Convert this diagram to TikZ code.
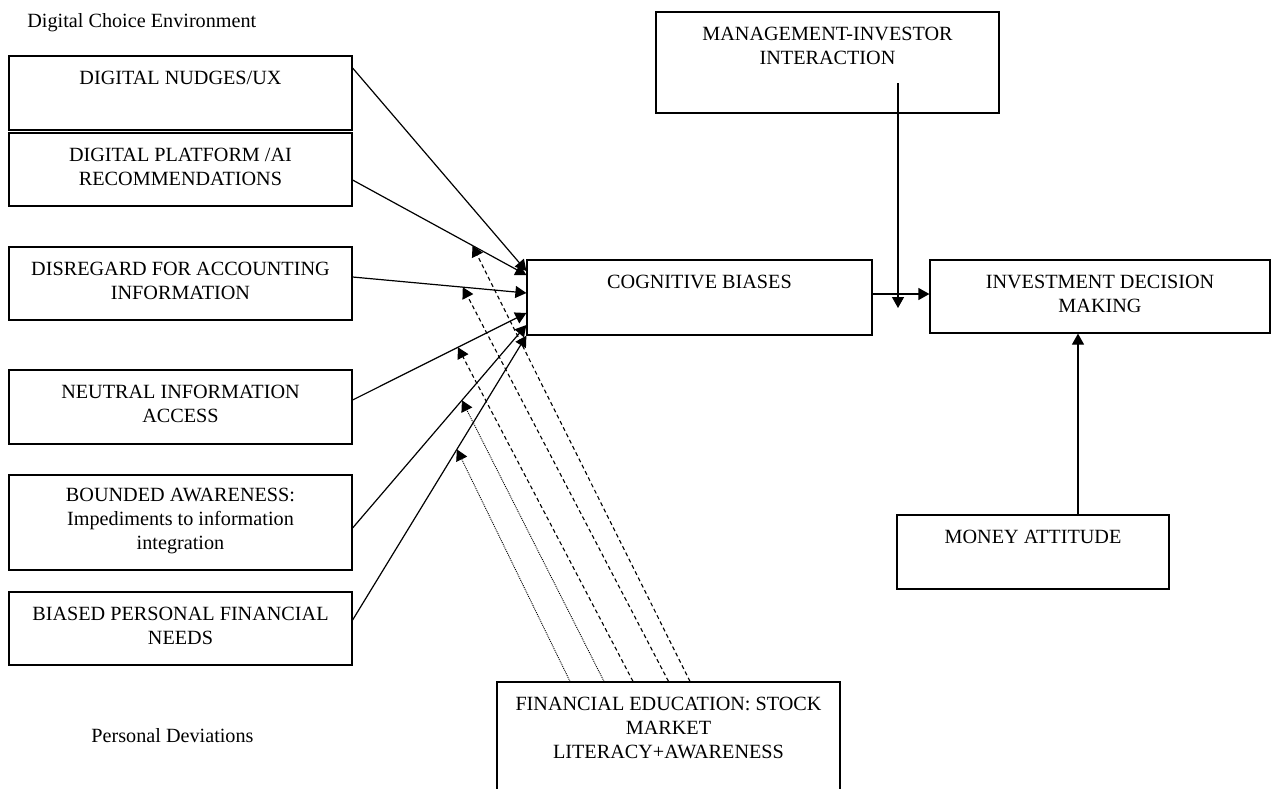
\documentclass[tikz,border=0pt]{standalone}
\usepackage{fontspec}
\setmainfont{Liberation Serif}
\usetikzlibrary{arrows.meta,positioning,fit}

\tikzset{
  box/.style={draw, line width=0.6pt, inner sep=0pt},
  boxtext/.style={inner sep=0pt, align=center, font=\fontsize{10.1}{12}\selectfont},
  link/.style={line width=0.6pt, -{Triangle[length=5.5pt,width=6pt]}},
  dashlink/.style={link, line width=0.55pt, dash pattern=on 2pt off 1.5pt},
  dotlink/.style={link, line width=0.45pt, dash pattern=on 0.5pt off 0.5pt},
}

\begin{document}
\begin{tikzpicture}[x=0.5pt,y=-0.5pt]
\clip (0,0) rectangle (1274,788);

% headings
\node[boxtext, anchor=base west] (dce) at (27,27) {Digital Choice Environment};
\node[boxtext, anchor=base west] (pd) at (91,742) {Personal Deviations};

% left column
\node[box, fit={(9,56) (352,130)}] (nudges) {};
\node[boxtext, below=7.5pt of nudges.north] (nudges-t) {DIGITAL NUDGES/UX};
\node[box, fit={(9,133) (352,206)}] (platform) {};
\node[boxtext, below=7.5pt of platform.north] (platform-t) {DIGITAL PLATFORM /AI\\RECOMMENDATIONS};
\node[box, fit={(9,247) (352,320)}] (disregard) {};
\node[boxtext, below=7.5pt of disregard.north] (disregard-t) {DISREGARD FOR ACCOUNTING\\INFORMATION};
\node[box, fit={(9,370) (352,444)}] (neutral) {};
\node[boxtext, below=7.5pt of neutral.north] (neutral-t) {NEUTRAL INFORMATION\\ACCESS};
\node[box, fit={(9,475) (352,570)}] (bounded) {};
\node[boxtext, below=6.5pt of bounded.north] (bounded-t) {BOUNDED AWARENESS:\\Impediments to information\\integration};
\node[box, fit={(9,592) (352,665)}] (needs) {};
\node[boxtext, below=7.5pt of needs.north] (needs-t) {BIASED PERSONAL FINANCIAL\\NEEDS};

% middle and right
\node[box, fit={(527,260) (872,335)}] (cb) {};
\node[boxtext, below=7.5pt of cb.north] (cb-t) {COGNITIVE BIASES};
\node[box, fit={(656,12) (999,113)}] (mi) {};
\node[boxtext, below=7.5pt of mi.north] (mi-t) {MANAGEMENT-INVESTOR\\INTERACTION};
\node[box, fit={(930,260) (1270,333)}] (idm) {};
\node[boxtext, below=7.5pt of idm.north] (idm-t) {INVESTMENT DECISION\\MAKING};
\node[box, fit={(897,515) (1169,589)}] (ma) {};
\node[boxtext, below=7.5pt of ma.north] (ma-t) {MONEY ATTITUDE};
\node[box, fit={(497,682) (840,800)}] (fe) {};
\node[boxtext, below=7.5pt of fe.north] (fe-t) {FINANCIAL EDUCATION: STOCK\\MARKET\\LITERACY+AWARENESS};

% into cognitive biases
\draw[link] ([yshift=12.5pt]nudges.east) -- ([yshift=13.25pt]cb.west);
\draw[link] ([yshift=-5.25pt]platform.east) -- coordinate[pos=.69] (on-platform) ([yshift=11.25pt]cb.west);
\draw[link] ([yshift=3.25pt]disregard.east) -- coordinate[pos=.634] (on-disregard) ([yshift=2.25pt]cb.west);
\draw[link] ([yshift=3.5pt]neutral.east) -- coordinate[pos=.606] (on-neutral) ([yshift=-7.75pt]cb.west);
\draw[link] ([yshift=-2.75pt]bounded.east) -- coordinate[pos=.629] (on-bounded) ([yshift=-13.75pt]cb.west);
\draw[link] ([yshift=4.25pt]needs.east) -- coordinate[pos=.6] (on-needs) (cb.south west);

% financial education
\draw[dashlink] ([xshift=10.75pt]fe.north) -- (on-platform);
\draw[dashlink] (fe.north) -- (on-disregard);
\draw[dashlink] ([xshift=-17.75pt]fe.north) -- (on-neutral);
\draw[dotlink] ([xshift=-32.25pt]fe.north) -- (on-bounded);
\draw[dotlink] ([xshift=-49.25pt]fe.north) -- (on-needs);

% to decision making
\draw[link] ([yshift=1.75pt]cb.east) -- ([yshift=1.25pt]idm.west);
\coordinate (mod-top) at (898,83);
\coordinate (mod-tip) at (898,308);
\draw[link] (mod-top) -- (mod-tip);
\draw[link] ([xshift=22.5pt]ma.north) -- ([xshift=-11pt]idm.south);

\end{tikzpicture}
\end{document}
